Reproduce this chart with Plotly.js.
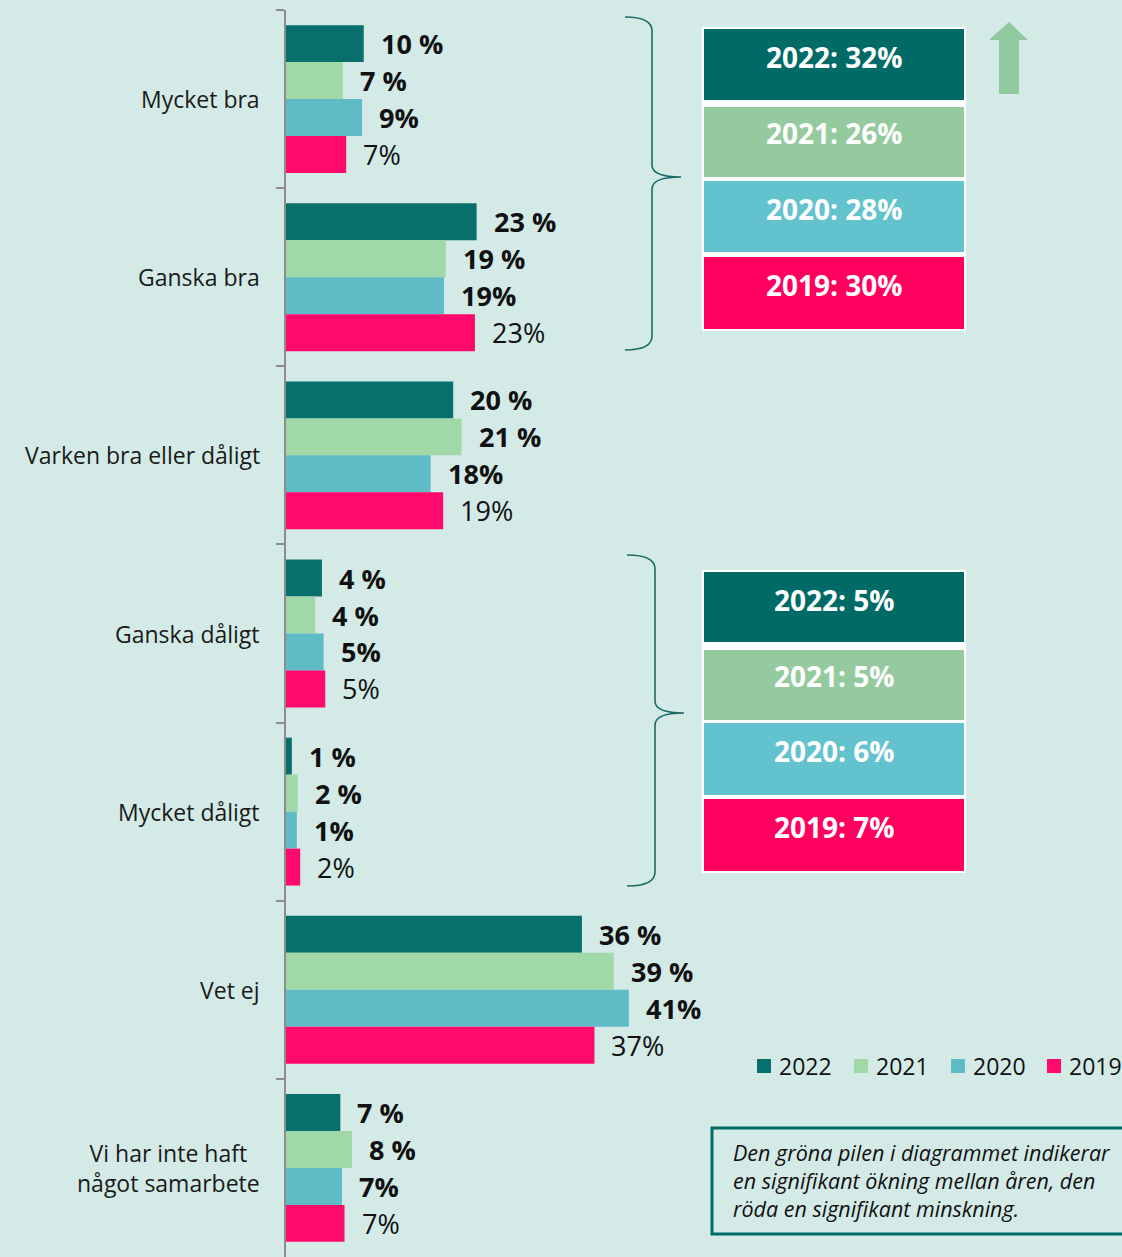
<!DOCTYPE html>
<html>
<head>
<meta charset="utf-8">
<script src="https://cdn.plot.ly/plotly-3.0.1.min.js"></script>
<style>html,body{margin:0;padding:0;background:#d3eae6;overflow:hidden;}#chart{width:1122px;height:1257px;}</style>
</head>
<body>
<div id="chart"></div>
<script>
// ---- data ----
const categories = ["Mycket bra", "Ganska bra", "Varken bra eller dåligt", "Ganska dåligt", "Mycket dåligt", "Vet ej", "Vi har inte haft<br>något samarbete"];
const years = ["2022", "2021", "2020", "2019"];
const values2022 = [9.3, 22.8, 20.0, 4.3, 0.7, 35.4, 6.5];
const values2021 = [6.8, 19.1, 21.0, 3.5, 1.4, 39.2, 7.9];
const values2020 = [9.1, 18.9, 17.3, 4.5, 1.3, 41.0, 6.7];
const values2019 = [7.2, 22.6, 18.8, 4.7, 1.7, 36.9, 7.0];
const labels2022 = ["10 %", "23 %", "20 %", "4 %", "1 %", "36 %", "7 %"];
const labels2021 = ["7 %", "19 %", "21 %", "4 %", "2 %", "39 %", "8 %"];
const labels2020 = ["9%", "19%", "18%", "5%", "1%", "41%", "7%"];
const labels2019 = ["7%", "23%", "19%", "5%", "2%", "37%", "7%"];
const summaryPositive = ["2022: 32%", "2021: 26%", "2020: 28%", "2019: 30%"];
const summaryNegative = ["2022: 5%", "2021: 5%", "2020: 6%", "2019: 7%"];
const noteText = "Den gröna pilen i diagrammet indikerar<br>en signifikant ökning mellan åren, den<br>röda en signifikant minskning.";

const barColors = ["#07706c", "#a0d8a8", "#5fbbc5", "#ff0a6c"];
const boxColors = ["#006b66", "#94ca9e", "#62c3ce", "#ff005e"];
const allValues = [values2022, values2021, values2020, values2019];
const allLabels = [labels2022, labels2021, labels2020, labels2019];
const FONT = "Open Sans, sans-serif";

const W = 1122, H = 1257, L = 286, R = 0, T = 10, B = 0;
const PW = W - L - R;
const px = x => (x - L) / PW;
const py = y => 1 - (y - T) / (H - T - B);
const bargap = 0.17;

const traces = years.map((yr, k) => ({
  type: "bar", orientation: "h", name: yr,
  x: allValues[k], y: categories,
  marker: {color: barColors[k]},
  hoverinfo: "skip", showlegend: false
}));

const annotations = [];
// category labels
categories.forEach((c, i) => {
  annotations.push({xref: "paper", yref: "y", x: 0, y: i, xanchor: "right", yanchor: "middle",
    xshift: -24, text: c, showarrow: false, align: "center",
    font: {family: FONT, size: 23, color: "#1a1a1a"}});
});
// value labels
const bw = (1 - bargap) / 4;
years.forEach((yr, k) => {
  allValues[k].forEach((v, i) => {
    annotations.push({xref: "x", yref: "y", x: v, y: i + (k - 1.5) * bw, xanchor: "left", yanchor: "middle",
      xshift: 15, text: allLabels[k][i], showarrow: false,
      font: {family: FONT, size: 27, color: "#111", weight: k < 3 ? "bold" : "normal"}});
  });
});

const shapes = [];
function rectPx(x0, y0, x1, y1, fill, line) {
  shapes.push({type: "rect", xref: "paper", yref: "paper", x0: px(x0), x1: px(x1), y0: py(y1), y1: py(y0),
    fillcolor: fill, line: line || {width: 0}, layer: "above"});
}
function pathPx(pts, opts) {
  let d = pts.map(p => (typeof p === "string" ? p : px(p[0]).toFixed(5) + "," + py(p[1]).toFixed(5))).join(" ");
  shapes.push(Object.assign({type: "path", xref: "paper", yref: "paper", path: d, layer: "above"}, opts));
}
function summaryBox(rows, texts, textYs) {
  rectPx(702, rows[0][0] - 2, 966, rows[3][1] + 2, "#ffffff");
  rows.forEach((r, k) => {
    rectPx(704, r[0], 964, r[1], boxColors[k]);
    annotations.push({xref: "paper", yref: "paper", x: px(834), y: py(textYs[k]), xanchor: "center", yanchor: "middle",
      text: texts[k], showarrow: false, font: {family: FONT, size: 28, color: "#ffffff", weight: "bold"}});
  });
}
summaryBox([[29, 100], [107, 177], [181, 252], [257, 329]], summaryPositive, [57, 133, 209, 285]);
summaryBox([[572, 642], [650, 720], [723, 795], [799, 871]], summaryNegative, [600, 676, 751, 827]);

function brace(x0, xm, xt, y0, ym, y1) {
  pathPx(["M", [x0, y0], "Q", [xm, y0], [xm, y0 + 14], "L", [xm, ym - 12], "Q", [xm, ym], [xt, ym],
    "Q", [xm, ym], [xm, ym + 12], "L", [xm, y1 - 14], "Q", [xm, y1], [x0, y1]],
    {line: {color: "#1d6b67", width: 1.6}});
}
brace(625, 652, 681, 17, 177, 350);
brace(627, 655, 684, 555, 713, 886);

// green arrow
pathPx(["M", [999, 94], "L", [999, 40], "L", [989, 40], "L", [1009, 22], "L", [1028, 40], "L", [1019, 40], "L", [1019, 94], "Z"],
  {fillcolor: "#8fc99d", line: {width: 0}});

// legend (drawn manually so it does not push the margins)
const legendX = [757, 854, 951, 1047];
years.forEach((yr, k) => {
  rectPx(legendX[k], 1059, legendX[k] + 14, 1073, barColors[k]);
  annotations.push({xref: "paper", yref: "paper", x: px(legendX[k] + 20), y: py(1066), xanchor: "left", yanchor: "middle",
    text: yr, showarrow: false, font: {family: FONT, size: 23, color: "#111"}});
});

// note box
rectPx(712, 1128, 1130, 1234, "rgba(0,0,0,0)", {color: "#006b66", width: 3});
annotations.push({xref: "paper", yref: "paper", x: px(731), y: py(1180), xanchor: "left", yanchor: "middle",
  text: "<i>" + noteText + "</i>", showarrow: false, align: "left",
  font: {family: FONT, size: 21.5, color: "#111"}});

const layout = {
  width: W, height: H,
  margin: {l: L, r: R, t: T, b: B, pad: 0},
  paper_bgcolor: "#d3eae6", plot_bgcolor: "#d3eae6",
  barmode: "group", bargap: bargap, bargroupgap: 0,
  showlegend: false,
  xaxis: {range: [0, 100], showgrid: false, zeroline: false, showticklabels: false, showline: false, ticks: "", fixedrange: true},
  yaxis: {type: "category", autorange: "reversed", showgrid: false, zeroline: false, showticklabels: false,
    showline: true, linecolor: "#8c8c8c", linewidth: 2, ticks: "outside", tickson: "boundaries", ticklen: 8,
    tickcolor: "#8c8c8c", tickwidth: 2, fixedrange: true},
  annotations: annotations,
  shapes: shapes,
  font: {family: FONT}
};
Plotly.newPlot("chart", traces, layout, {displayModeBar: false, staticPlot: true});
</script>
</body>
</html>
